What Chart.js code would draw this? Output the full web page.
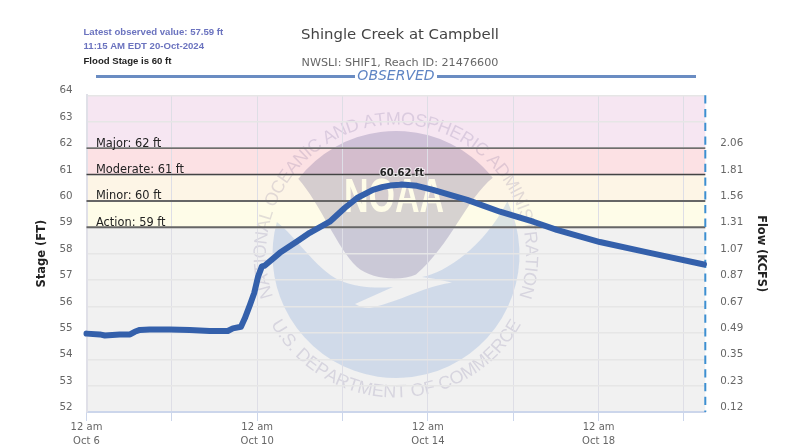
<!DOCTYPE html>
<html>
<head>
<meta charset="utf-8">
<title>Shingle Creek at Campbell</title>
<script src="https://cdn.jsdelivr.net/npm/chart.js@4"></script>
<style>
  html, body { margin: 0; padding: 0; background: #fff; }
  canvas { display: block; }
</style>
</head>
<body>
<canvas id="stageChart" width="791" height="446"></canvas>
<script>
// Days since 12 am Oct 6 and observed stage in feet
const stageDays = [0, 0.31, 0.43, 0.78, 1.02, 1.13, 1.25, 1.48, 1.95, 2.42, 2.89, 3.31, 3.43, 3.62, 3.71, 3.83, 3.93, 4.02, 4.11, 4.18, 4.53, 4.93, 5.23, 5.70, 6.05, 6.34, 6.71, 6.95, 7.11, 7.34, 7.39, 7.74, 8.12, 8.92, 9.69, 10.47, 11.02, 12.03, 13.09, 14.469];
const stageFeet = [54.97, 54.94, 54.90, 54.94, 54.94, 55.04, 55.11, 55.13, 55.13, 55.11, 55.07, 55.07, 55.17, 55.23, 55.55, 56.06, 56.51, 57.13, 57.52, 57.55, 58.03, 58.46, 58.79, 59.21, 59.73, 60.11, 60.42, 60.53, 60.58, 60.61, 60.62, 60.57, 60.42, 60.04, 59.59, 59.21, 58.9, 58.44, 58.07, 57.59];

// X axis ticks
const xTickDays = [0, 2, 4, 6, 8, 10, 12, 14];
const xTickLabels = [['12 am', 'Oct 6'], '', ['12 am', 'Oct 10'], '', ['12 am', 'Oct 14'], '', ['12 am', 'Oct 18'], ''];

// Right axis: stage value -> flow label
const flowStages = [52, 53, 54, 55, 56, 57, 58, 59, 60, 61, 62];
const flowLabels = ['0.12', '0.23', '0.35', '0.49', '0.67', '0.87', '1.07', '1.31', '1.56', '1.81', '2.06'];

// Flood categories
const floodNames = ['Action: 59 ft', 'Minor: 60 ft', 'Moderate: 61 ft', 'Major: 62 ft'];
const floodStages = [59, 60, 61, 62];
const floodLineColors = ['#666', '#666', '#444', '#444'];
const floodLineWidths = [2, 2, 1.4, 1.4];
const bandColors = ['#f1f1f1', '#fefce8', '#fdf5e6', '#fce1e4', '#f6e6f2'];

const crestIndex = stageFeet.indexOf(Math.max(...stageFeet));

function drawArcText(ctx, text, radius, midAngle, span, bottom) {
    // spreads the letters evenly over the span (radians)
    const widths = [...text].map(c => ctx.measureText(c).width);
    const total = widths.reduce((a, b) => a + b, 0);
    const extra = (span * radius - total) / (text.length - 1);
    let pos = -(span * radius) / 2;
    [...text].forEach((c, i) => {
        const a = (pos + widths[i] / 2) / radius;
        ctx.save();
        if (bottom) {
            ctx.rotate(midAngle - a);
            ctx.translate(0, radius);
        } else {
            ctx.rotate(midAngle + a);
            ctx.translate(0, -radius);
        }
        ctx.fillText(c, 0, 0);
        ctx.restore();
        pos += widths[i] + extra;
    });
}

function drawLogo(ctx, y) {
    const r = 123.5;
    ctx.save();
    ctx.translate(396, 254.5);

    // dark cap
    ctx.fillStyle = 'rgba(56, 46, 116, 0.2)';
    ctx.beginPath();
    ctx.arc(0, 0, r, Math.atan2(-76, -98), Math.atan2(-77, 97));
    ctx.bezierCurveTo(70, -55, 55, -10, 20, 20);
    ctx.bezierCurveTo(5, 27, -25, 25, -39, 12.5);
    ctx.bezierCurveTo(-60, -8, -75, -50, -98, -76);
    ctx.closePath();
    ctx.fill();

    // blue lower part with the bird cut out of its top edge
    ctx.fillStyle = 'rgba(81, 131, 206, 0.2)';
    ctx.beginPath();
    ctx.arc(0, 0, r, Math.atan2(-52.5, 111), Math.atan2(-32.5, -119));
    ctx.bezierCurveTo(-100, -18, -80, 15, -56, 26);
    ctx.bezierCurveTo(-40, 33, -20, 34, -3, 32.5);
    ctx.lineTo(-41, 49.5);
    ctx.quadraticCurveTo(-33, 54, -26, 53.5);
    ctx.bezierCurveTo(-10, 50, 10, 42, 27, 35.5);
    ctx.quadraticCurveTo(42, 30, 56, 28);
    ctx.quadraticCurveTo(40, 24, 26, 22.5);
    ctx.bezierCurveTo(50, 18, 88, -8, 111, -52.5);
    ctx.closePath();
    ctx.fill();

    // NOAA letters take the colour of the band behind them
    const split = y.getPixelForValue(60) - 254.5;
    const grad = ctx.createLinearGradient(0, -80, 0, -40);
    const stop = (split + 80) / 40;
    grad.addColorStop(0, bandColors[2]);
    grad.addColorStop(stop, bandColors[2]);
    grad.addColorStop(stop, bandColors[1]);
    grad.addColorStop(1, bandColors[1]);
    ctx.fillStyle = grad;
    ctx.font = 'bold 34px "Liberation Sans"';
    ctx.textAlign = 'center';
    ctx.textBaseline = 'alphabetic';
    ctx.save();
    ctx.translate(-2, -42.5);
    ctx.scale(1, 1.4);
    ctx.fillText('NOAA', 0, 0);
    ctx.restore();

    // seal lettering
    ctx.fillStyle = 'rgba(56, 46, 116, 0.14)';
    ctx.font = '18px "Liberation Sans"';
    ctx.textBaseline = 'alphabetic';
    drawArcText(ctx, 'NATIONAL OCEANIC AND ATMOSPHERIC ADMINISTRATION', 130, 0, 218 * Math.PI / 180, false);
    drawArcText(ctx, 'U.S. DEPARTMENT OF COMMERCE', 143, 0, 122 * Math.PI / 180, true);
    ctx.restore();
}

const stagePlugin = {
    id: 'stageDecor',
    beforeDraw(chart) {
        const { ctx, chartArea: area, scales: { y } } = chart;
        // flood bands
        const edges = [y.min, ...floodStages, y.max];
        bandColors.forEach((color, i) => {
            const top = y.getPixelForValue(edges[i + 1]);
            const bottom = y.getPixelForValue(edges[i]);
            ctx.fillStyle = color;
            ctx.fillRect(area.left, top, area.right - area.left, bottom - top);
        });
        drawLogo(ctx, y);
    },
    beforeDatasetsDraw(chart) {
        const { ctx, chartArea: area, scales: { y } } = chart;
        ctx.save();
        ctx.font = '11.4px "DejaVu Sans"';
        ctx.textAlign = 'left';
        ctx.textBaseline = 'alphabetic';
        floodStages.forEach((stage, i) => {
            const py = y.getPixelForValue(stage);
            ctx.strokeStyle = floodLineColors[i];
            ctx.lineWidth = floodLineWidths[i];
            ctx.beginPath();
            ctx.moveTo(area.left, py);
            ctx.lineTo(area.right, py);
            ctx.stroke();
            ctx.fillStyle = '#222';
            ctx.fillText(floodNames[i], 96, py - 1.5);
        });
        // dashed right edge
        ctx.strokeStyle = '#3d8fd1';
        ctx.lineWidth = 2;
        ctx.setLineDash([8.3, 5.4]);
        ctx.beginPath();
        ctx.moveTo(area.right, area.top);
        ctx.lineTo(area.right, area.bottom);
        ctx.stroke();
        ctx.restore();
    },
    afterDraw(chart) {
        const { ctx, scales: { x, y } } = chart;
        ctx.save();

        // crest label
        const cx = x.getPixelForValue(stageDays[crestIndex]);
        const cy = y.getPixelForValue(stageFeet[crestIndex]);
        const crest = stageFeet[crestIndex].toFixed(2) + ' ft';
        ctx.font = 'bold 10px "DejaVu Sans"';
        ctx.textAlign = 'center';
        ctx.textBaseline = 'middle';
        ctx.lineWidth = 2;
        ctx.strokeStyle = 'rgba(255, 255, 255, 0.7)';
        ctx.strokeText(crest, cx, cy - 11);
        ctx.fillStyle = '#222';
        ctx.fillText(crest, cx, cy - 11);

        // OBSERVED divider
        ctx.strokeStyle = '#6a8cc2';
        ctx.lineWidth = 3;
        ctx.beginPath();
        ctx.moveTo(96, 76.5);
        ctx.lineTo(355, 76.5);
        ctx.moveTo(437, 76.5);
        ctx.lineTo(696, 76.5);
        ctx.stroke();
        ctx.font = 'italic 14px "DejaVu Sans"';
        ctx.fillStyle = '#5f85c4';
        ctx.fillText('OBSERVED', 396, 76.5);

        // latest observation note
        ctx.textAlign = 'left';
        ctx.font = 'bold 9.6px "Liberation Sans"';
        ctx.fillStyle = '#6b73bf';
        ctx.fillText('Latest observed value: 57.59 ft', 83.5, 32);
        ctx.fillText('11:15 AM EDT 20-Oct-2024', 83.5, 46);
        ctx.fillStyle = '#222';
        ctx.fillText('Flood Stage is 60 ft', 83.5, 61);
        ctx.restore();
    }
};

new Chart(document.getElementById('stageChart').getContext('2d'), {
    type: 'line',
    data: {
        datasets: [{
            label: 'Stage',
            data: stageDays.map((d, i) => ({ x: d, y: stageFeet[i] })),
            borderColor: '#3460ab',
            borderWidth: 6,
            borderCapStyle: 'round',
            borderJoinStyle: 'round',
            pointRadius: 0,
            tension: 0,
            clip: false,
            yAxisID: 'y'
        }]
    },
    options: {
        responsive: false,
        animation: false,
        layout: { padding: { left: 9 } },
        plugins: {
            legend: { display: false },
            tooltip: { enabled: false },
            title: {
                display: true,
                text: 'Shingle Creek at Campbell',
                color: '#444',
                font: { family: '"DejaVu Sans"', size: 14.9, weight: 'normal' },
                padding: { top: 26, bottom: 12 }
            },
            subtitle: {
                display: true,
                text: 'NWSLI: SHIF1, Reach ID: 21476600',
                color: '#666',
                font: { family: '"DejaVu Sans"', size: 11.2, weight: 'normal' },
                padding: { top: 0, bottom: 26 }
            }
        },
        scales: {
            x: {
                type: 'linear',
                min: 0,
                max: 14.5,
                afterFit(scale) { scale.height = 34; },
                afterBuildTicks(scale) { scale.ticks = xTickDays.map(d => ({ value: d })); },
                border: { color: '#ccd6eb', width: 2 },
                grid: { color: '#dedee6', lineWidth: 1, tickColor: '#ccd6eb', tickLength: 9 },
                ticks: {
                    color: '#666',
                    font: { family: '"DejaVu Sans"', size: 10, lineHeight: 1.35 },
                    padding: 0,
                    maxRotation: 0,
                    autoSkip: false,
                    callback: (value) => xTickLabels[xTickDays.indexOf(value)]
                }
            },
            y: {
                position: 'left',
                min: 52,
                max: 64,
                afterFit(scale) { scale.width = 77.5; },
                border: { color: '#e0e0e8', width: 2 },
                grid: { color: '#e6e6e6', lineWidth: 1.4, drawTicks: false },
                title: {
                    display: true,
                    text: 'Stage (FT)',
                    color: '#222',
                    font: { family: '"DejaVu Sans"', size: 11.5, weight: 'bold' },
                    padding: { top: 26, bottom: 0 }
                },
                ticks: {
                    stepSize: 1,
                    color: '#666',
                    font: { family: '"DejaVu Sans"', size: 10.3 },
                    padding: 14,
                    labelOffset: -4.5
                }
            },
            y1: {
                position: 'right',
                min: 52,
                max: 64,
                afterFit(scale) { scale.width = 85.7; },
                border: { display: false },
                grid: { display: false, drawTicks: false },
                title: {
                    display: true,
                    text: 'Flow (KCFS)',
                    color: '#222',
                    font: { family: '"DejaVu Sans"', size: 11.4, weight: 'bold' },
                    padding: { top: 23, bottom: 0 }
                },
                ticks: {
                    stepSize: 1,
                    color: '#666',
                    font: { family: '"DejaVu Sans"', size: 10.3 },
                    padding: 15,
                    labelOffset: -4.5,
                    callback: (value) => {
                        const i = flowStages.indexOf(value);
                        return i >= 0 ? flowLabels[i] : '';
                    }
                }
            }
        }
    },
    plugins: [stagePlugin]
});
</script>
</body>
</html>
